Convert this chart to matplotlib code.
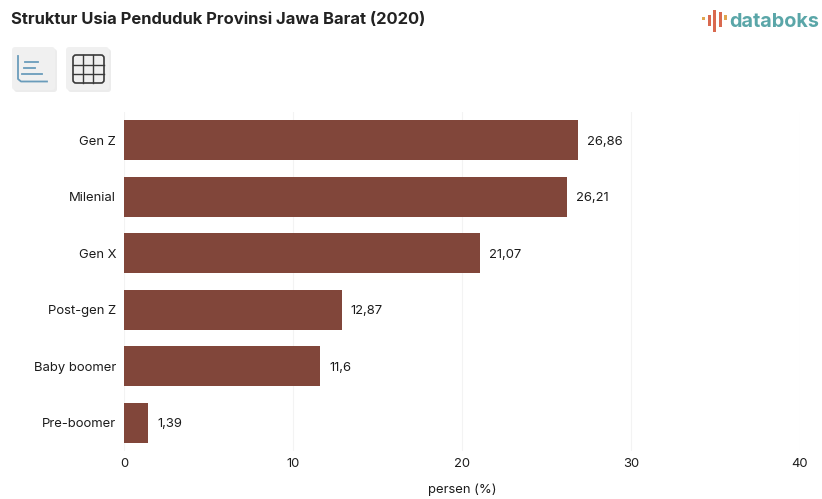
import numpy as np
import matplotlib
matplotlib.use("Agg")
import matplotlib.pyplot as plt
from matplotlib.patches import FancyBboxPatch, Rectangle

plt.rcParams['font.family'] = ['Inter', 'DejaVu Sans']

kategori = ["Gen Z", "Milenial", "Gen X", "Post-gen Z", "Baby boomer", "Pre-boomer"]
persen = [26.86, 26.21, 21.07, 12.87, 11.6, 1.39]
label_persen = ["26,86", "26,21", "21,07", "12,87", "11,6", "1,39"]
xticks = [0, 10, 20, 30, 40]

W, H = 822, 499
fig = plt.figure(figsize=(W / 100, H / 100), dpi=100)

# overlay in pixel units for header, buttons and logo
bg = fig.add_axes([0, 0, 1, 1])
bg.set_xlim(0, W)
bg.set_ylim(H, 0)
bg.axis("off")

ax = fig.add_axes([124.4 / W, 1 - 451 / H, (799.6 - 124.4) / W, (451 - 112) / H])
y = np.arange(len(kategori))
ax.barh(y, persen, height=0.7, color="#81463a")
ax.set_ylim(len(kategori) - 0.5, -0.5)
ax.set_xlim(0, 40)
ax.set_yticks(y, kategori, fontsize=9.4, color="#1c1c1c", va="center_baseline")
ax.set_xticks(xticks, [str(t) for t in xticks], fontsize=9.4, color="#1c1c1c")
ax.tick_params(axis="both", length=0)
ax.tick_params(axis="y", pad=6)
ax.tick_params(axis="x", pad=5)
ax.grid(axis="x", color="#f3f3f3", linewidth=0.8)
ax.set_axisbelow(True)
for s in ax.spines.values():
    s.set_visible(False)
ax.set_xlabel("persen (%)", fontsize=9.4, color="#1c1c1c", labelpad=10)

for i, (v, t) in enumerate(zip(persen, label_persen)):
    ax.text(v + 0.55, i, t, va="center_baseline", ha="left", fontsize=9.4, color="#1c1c1c")

bg.text(11, 19, "Struktur Usia Penduduk Provinsi Jawa Barat (2020)", fontsize=11.95,
        fontweight="bold", color="#222222", va="center", ha="left")

# toggle buttons
for x0 in (12, 66):
    bg.add_patch(FancyBboxPatch((x0 + 2, 49), 43, 43, boxstyle="round,pad=0,rounding_size=3",
                                fc="#e4e4e4", ec="none", alpha=0.7))
    bg.add_patch(FancyBboxPatch((x0, 47), 43, 43, boxstyle="round,pad=0,rounding_size=3",
                                fc="#f0f0f0", ec="none"))

azul = "#6a9cbb"
bg.plot([18, 18, 21, 47], [56, 79, 81.5, 81.5], color=azul, lw=1.3)
for xa, xb, yy in [(25, 38, 62), (24, 35, 68), (22, 42, 74)]:
    bg.plot([xa, xb], [yy, yy], color=azul, lw=1.3)

bg.add_patch(FancyBboxPatch((73, 55), 31, 28, boxstyle="round,pad=0,rounding_size=3",
                            fc="none", ec="#3a3a3a", lw=1.2))
for xx in (83, 93):
    bg.plot([xx, xx], [55, 83], color="#3a3a3a", lw=1.0)
for yy in (64.5, 74):
    bg.plot([73, 104], [yy, yy], color="#3a3a3a", lw=1.0)

# databoks logo
merah = "#d9694f"
emas = "#e0a64f"
for xx, y0, y1, c in [(703.5, 17, 20, emas), (709, 15, 26, merah), (714.5, 10, 32, merah),
                      (720, 12, 27, merah), (725.5, 15, 20, emas)]:
    bg.add_patch(Rectangle((xx - 1.5, y0), 3, y1 - y0, fc=c, ec="none"))
bg.text(729, 21.5, "databoks", fontsize=14.3, fontweight="bold", color="#5aa6a8",
        va="center", ha="left")

fig.savefig("out.png", dpi=100)
